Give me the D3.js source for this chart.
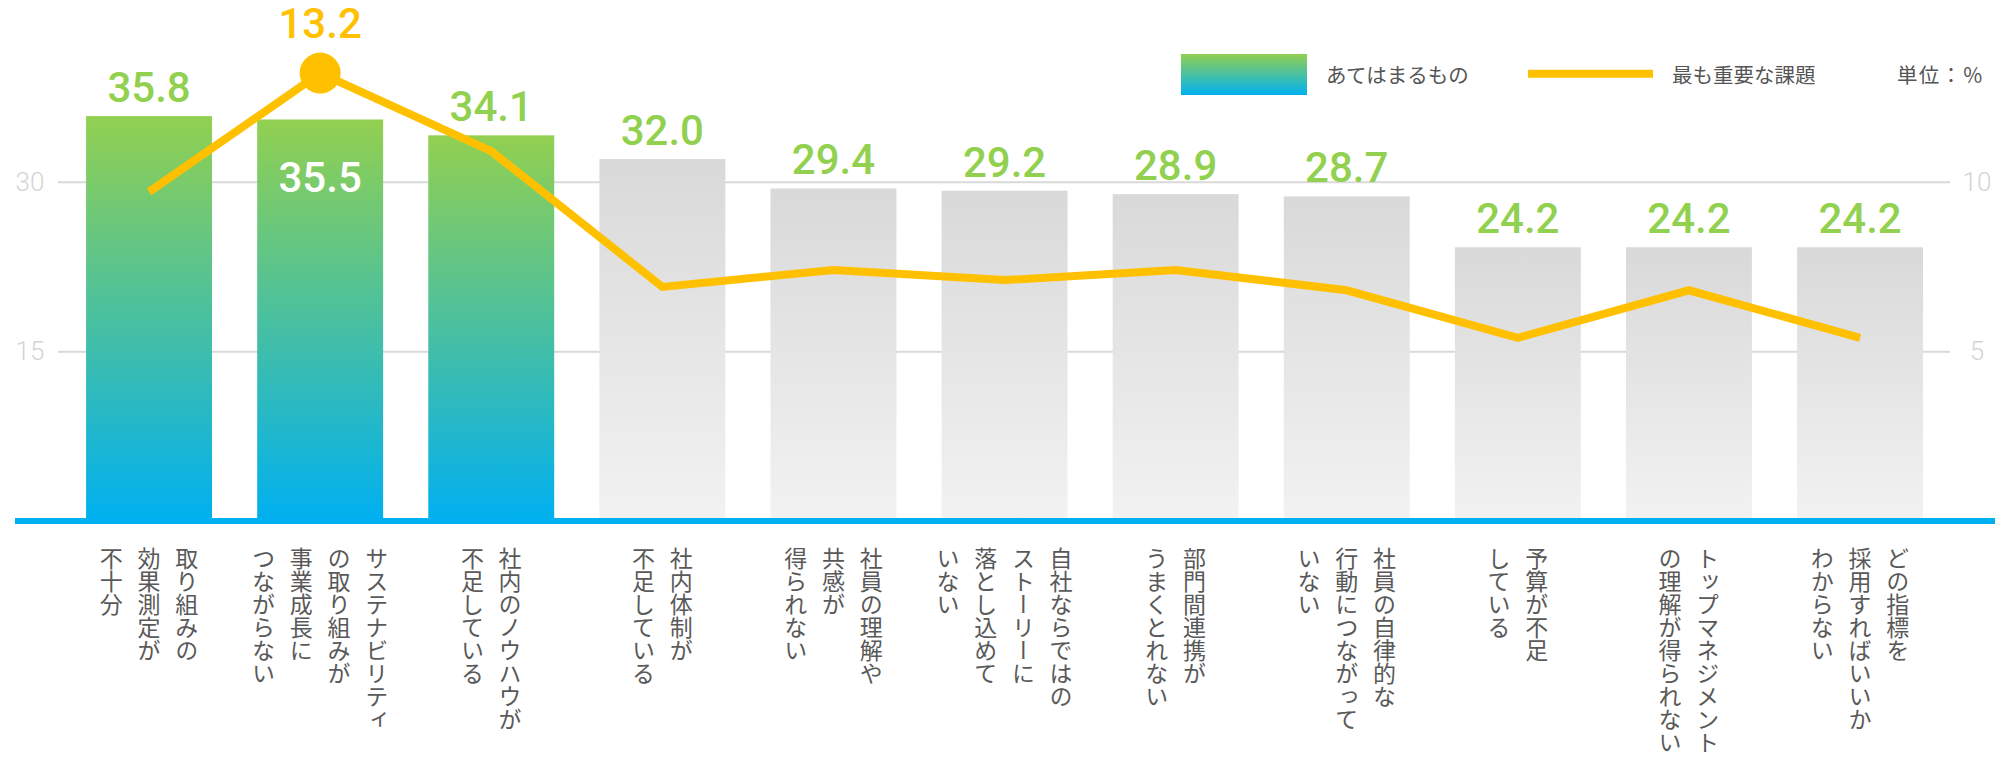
<!DOCTYPE html>
<html>
<head>
<meta charset="utf-8">
<script src="https://cdn.jsdelivr.net/npm/d3@7"></script>
<style>
  body { margin: 0; background: #fff; }
</style>
</head>
<body>
<script>
const width = 1995;
const height = 759;

// Category labels, one string per vertical column (right to left)
const categories = [
    ["取り組みの", "効果測定が", "不十分"],
    ["サステナビリティ", "の取り組みが", "事業成長に", "つながらない"],
    ["社内のノウハウが", "不足している"],
    ["社内体制が", "不足している"],
    ["社員の理解や", "共感が", "得られない"],
    ["自社ならではの", "ストーリーに", "落とし込めて", "いない"],
    ["部門間連携が", "うまくとれない"],
    ["社員の自律的な", "行動につながって", "いない"],
    ["予算が不足", "している"],
    ["トップマネジメント", "の理解が得られない"],
    ["どの指標を", "採用すればいいか", "わからない"]
];

// あてはまるもの (bars, left axis)
const applicable = [35.8, 35.5, 34.1, 32.0, 29.4, 29.2, 28.9, 28.7, 24.2, 24.2, 24.2];
// 最も重要な課題 (line, right axis)
const mostImportant = [9.7, 13.2, 10.9, 6.9, 7.4, 7.1, 7.4, 6.8, 5.4, 6.8, 5.4];

const leftTicks = [15, 30];
const rightTicks = [5, 10];
const legendLabels = ["あてはまるもの", "最も重要な課題"];
const unitLabel = "単位：％";
const highlightCount = 3; // first bars get the colour gradient

const jpFont = "'Noto Sans CJK JP', 'Noto Sans', sans-serif";
const numFont = "Roboto, 'Noto Sans', sans-serif";

const svg = d3.select("body").append("svg")
    .attr("width", width)
    .attr("height", height);

// Gradients
const defs = svg.append("defs");
const green = defs.append("linearGradient")
    .attr("id", "barGreen")
    .attr("x1", 0).attr("y1", 0).attr("x2", 0).attr("y2", 1);
green.append("stop").attr("offset", "0%").attr("stop-color", "#92d050");
green.append("stop").attr("offset", "100%").attr("stop-color", "#00b0f0");
const grey = defs.append("linearGradient")
    .attr("id", "barGrey")
    .attr("x1", 0).attr("y1", 0).attr("x2", 0).attr("y2", 1);
grey.append("stop").attr("offset", "0%").attr("stop-color", "#d9d9d9");
grey.append("stop").attr("offset", "100%").attr("stop-color", "#f2f2f2");

// Scales
const x = d3.scaleBand()
    .domain(d3.range(categories.length))
    .range([63.5, 1945.6])
    .paddingInner(0.264)
    .paddingOuter(0.132);
const yLeft = d3.scaleLinear().domain([0, 30]).range([521, 181.7]);
const yRight = d3.scaleLinear().domain([0, 10]).range([521, 181.7]);
const cx = i => x(i) + x.bandwidth() / 2;

// Left axis with gridlines
const leftAxis = svg.append("g")
    .attr("transform", "translate(58,0)")
    .call(d3.axisLeft(yLeft).tickValues(leftTicks).tickSize(-(1950 - 58)).tickPadding(0))
    .attr("font-family", numFont)
    .attr("font-size", 26);
leftAxis.select(".domain").remove();
leftAxis.selectAll("line").attr("stroke", "#d9d9d9").attr("stroke-width", 2);
leftAxis.selectAll("text")
    .attr("x", -28)
    .attr("text-anchor", "middle")
    .attr("font-weight", 300)
    .attr("fill", "#d4d4d4");

// Right axis (labels only)
const rightAxis = svg.append("g")
    .attr("transform", "translate(1950,0)")
    .call(d3.axisRight(yRight).tickValues(rightTicks).tickSize(0))
    .attr("font-family", numFont)
    .attr("font-size", 26);
rightAxis.select(".domain").remove();
rightAxis.selectAll("text")
    .attr("x", 27)
    .attr("text-anchor", "middle")
    .attr("font-weight", 300)
    .attr("fill", "#d4d4d4");

// Bars
svg.selectAll(".bar")
    .data(applicable)
    .join("rect")
    .attr("class", "bar")
    .attr("x", (d, i) => x(i))
    .attr("y", d => yLeft(d))
    .attr("width", x.bandwidth())
    .attr("height", d => yLeft(0) - yLeft(d))
    .attr("fill", (d, i) => i < highlightCount ? "url(#barGreen)" : "url(#barGrey)");

// Baseline
svg.append("line")
    .attr("x1", 15).attr("x2", width)
    .attr("y1", yLeft(0)).attr("y2", yLeft(0))
    .attr("stroke", "#00b0f0")
    .attr("stroke-width", 6);

// Line series
const line = d3.line()
    .x((d, i) => cx(i))
    .y(d => yRight(d));
svg.append("path")
    .datum(mostImportant)
    .attr("d", line)
    .attr("fill", "none")
    .attr("stroke", "#ffc000")
    .attr("stroke-width", 8)
    .attr("stroke-linejoin", "miter");

// Highlight the top line value
const maxIdx = d3.maxIndex(mostImportant);
svg.append("circle")
    .attr("cx", cx(maxIdx))
    .attr("cy", yRight(mostImportant[maxIdx]))
    .attr("r", 20.5)
    .attr("fill", "#ffc000");
svg.append("text")
    .attr("x", cx(maxIdx))
    .attr("y", yRight(mostImportant[maxIdx]) - 35)
    .attr("text-anchor", "middle")
    .attr("font-family", numFont)
    .attr("font-weight", 500)
    .attr("font-size", 42)
    .attr("fill", "#ffc000")
    .text(mostImportant[maxIdx].toFixed(1));

// Bar value labels (inside the bar where the line marker sits above)
svg.selectAll(".value")
    .data(applicable)
    .join("text")
    .attr("class", "value")
    .attr("x", (d, i) => cx(i))
    .attr("y", (d, i) => i === maxIdx ? yLeft(d) + 73 : yLeft(d) - 14)
    .attr("text-anchor", "middle")
    .attr("font-family", numFont)
    .attr("font-weight", 500)
    .attr("font-size", 42)
    .attr("fill", (d, i) => i === maxIdx ? "#ffffff" : "#92d050")
    .text(d => d.toFixed(1));

// Vertical category labels
const colGap = 37.7;
const cat = svg.selectAll(".cat")
    .data(categories)
    .join("g")
    .attr("class", "cat");
cat.selectAll("text")
    .data((lines, i) => lines.map((s, j) => ({ s, j, n: lines.length, i })))
    .join("text")
    .attr("x", d => cx(d.i) + ((d.n - 1) / 2 - d.j) * colGap)
    .attr("y", 547)
    .style("writing-mode", "vertical-rl")
    .attr("font-family", jpFont)
    .attr("font-weight", 400)
    .attr("font-size", 23)
    .attr("fill", "#595959")
    .text(d => d.s);

// Legend
svg.append("rect")
    .attr("x", 1181).attr("y", 54)
    .attr("width", 126).attr("height", 41)
    .attr("fill", "url(#barGreen)");
svg.append("line")
    .attr("x1", 1528).attr("x2", 1653)
    .attr("y1", 73.7).attr("y2", 73.7)
    .attr("stroke", "#ffc000")
    .attr("stroke-width", 8);
svg.selectAll(".legend")
    .data([legendLabels[0], legendLabels[1]])
    .join("text")
    .attr("class", "legend")
    .attr("x", (d, i) => [1326, 1672][i])
    .attr("y", 74)
    .attr("dominant-baseline", "central")
    .attr("font-family", jpFont)
    .attr("font-weight", 400)
    .attr("font-size", 20.5)
    .attr("fill", "#555555")
    .text(d => d);
svg.append("text")
    .attr("x", 1897)
    .attr("y", 74)
    .attr("dominant-baseline", "central")
    .attr("font-family", jpFont)
    .attr("font-size", 20.5)
    .attr("textLength", 86)
    .attr("lengthAdjust", "spacing")
    .attr("fill", "#555555")
    .text(unitLabel);
</script>
</body>
</html>
